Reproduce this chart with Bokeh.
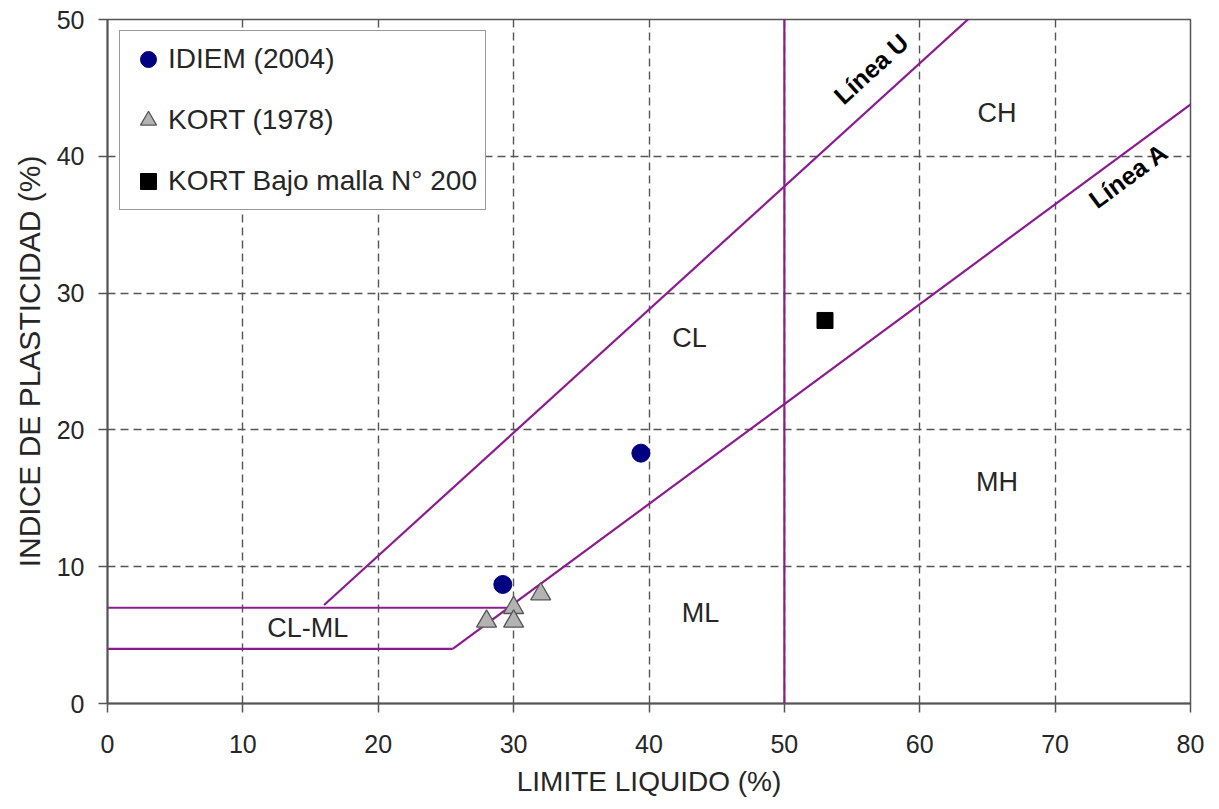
from bokeh.plotting import figure
from bokeh.models import Range1d, FixedTicker, Legend, LegendItem
from bokeh.core.properties import value
from bokeh.embed import file_html
from bokeh.resources import INLINE
import math

# ---- data ----
idiem_ll = [29.2, 39.4]
idiem_ip = [8.7, 18.3]
kort_ll = [28.0, 30.0, 30.0, 32.0]
kort_ip = [6.0, 7.0, 6.0, 8.0]
kort200_ll = [53.0]
kort200_ip = [28.0]

line_u_ll = [16.0, 64.0]
line_u_ip = [7.2, 50.4]
line_a_ll = [25.5, 80.7]
line_a_ip = [4.0, 44.3]
clml_top_ll = [0.0, 29.6]
clml_top_ip = [7.0, 7.0]
clml_bot_ll = [0.0, 25.5]
clml_bot_ip = [4.0, 4.0]
ll50_ll = [50.0, 50.0]
ll50_ip = [0.0, 51.0]

x_ticks = [0, 10, 20, 30, 40, 50, 60, 70, 80]
y_ticks = [0, 10, 20, 30, 40, 50]

zone_names = ["CL", "CH", "MH", "ML", "CL-ML"]
zone_ll = [43.0, 65.7, 65.7, 43.8, 14.8]
zone_ip = [26.7, 43.2, 16.2, 6.65, 5.55]

line_label_names = ["Línea U", "Línea A"]
line_label_ll = [56.4, 75.4]
line_label_ip = [46.4, 38.6]
line_label_slope = [0.9, 0.73]

FONT = "Liberation Sans"
TXT = "#262626"
PURPLE = "#8B1C8F"

p = figure(width=1219, height=809, output_backend="svg", toolbar_location=None,
           x_range=Range1d(0, 80), y_range=Range1d(0, 50),
           min_border_left=107, min_border_right=29, min_border_top=19, min_border_bottom=106)
p.background_fill_color = "white"
p.border_fill_color = "white"
p.outline_line_color = "#555555"
p.outline_line_width = 1.5

for ax in (p.xaxis[0], p.yaxis[0]):
    ax.axis_line_color = "#555555"
    ax.axis_line_width = 2
    ax.major_tick_line_color = "#555555"
    ax.major_tick_line_width = 1.5
    ax.major_tick_in = 0
    ax.major_tick_out = 9
    ax.minor_tick_line_color = None
    ax.major_label_text_font = FONT
    ax.major_label_text_font_size = "25px"
    ax.major_label_text_color = TXT
    ax.axis_label_text_font = FONT
    ax.axis_label_text_font_style = "normal"
    ax.axis_label_text_color = TXT

p.xaxis.ticker = FixedTicker(ticks=x_ticks)
p.yaxis.ticker = FixedTicker(ticks=y_ticks)
p.xaxis.axis_label = "LIMITE LIQUIDO (%)"
p.yaxis.axis_label = "INDICE DE PLASTICIDAD (%)"
p.xaxis.axis_label_text_font_size = "28px"
p.yaxis.axis_label_text_font_size = "30px"
p.xaxis.major_label_standoff = 22
p.yaxis.major_label_standoff = 14
p.xaxis.axis_label_standoff = 10
p.yaxis.axis_label_standoff = 8

for g in (p.xgrid[0], p.ygrid[0]):
    g.grid_line_color = "#555555"
    g.grid_line_width = 1.4
    g.grid_line_dash = "8 5"

# ---- classification lines ----
for xs, ys in [(line_u_ll, line_u_ip), (line_a_ll, line_a_ip), (clml_top_ll, clml_top_ip),
               (clml_bot_ll, clml_bot_ip), (ll50_ll, ll50_ip)]:
    p.line(xs, ys, line_color=PURPLE, line_width=2.2)

# ---- data points ----
r_idiem = p.scatter(idiem_ll, idiem_ip, marker="circle", size=18,
                    fill_color="#000080", line_color="#000080")
r_kort = p.scatter(kort_ll, kort_ip, marker="triangle", size=20,
                   fill_color="#b3b3b3", line_color="#555555", line_width=1.3)
r_k200 = p.scatter(kort200_ll, kort200_ip, marker="square", size=16,
                   fill_color="black", line_color="black")

# ---- zone labels ----
p.text(x=zone_ll, y=zone_ip, text=zone_names, text_font=value(FONT),
       text_font_size="27px", text_color=TXT, text_align="center", text_baseline="middle")

# ---- line labels ----
sx = 1083 / 80
sy = 684 / 50
angles = [math.atan(s * sy / sx) for s in line_label_slope]
p.text(x=line_label_ll, y=line_label_ip, text=line_label_names, angle=angles,
       text_font=value(FONT), text_font_style="bold",
       text_font_size="25px", text_color="black", text_align="center", text_baseline="middle")

# ---- legend ----
legend = Legend(items=[
    LegendItem(label="IDIEM (2004)", renderers=[r_idiem]),
    LegendItem(label="KORT (1978)", renderers=[r_kort]),
    LegendItem(label="KORT Bajo malla N° 200", renderers=[r_k200]),
], location=(12, 493))
legend.margin = 0
legend.padding = 8
legend.spacing = 21
legend.label_height = 30
legend.glyph_height = 40
legend.glyph_width = 40
legend.label_standoff = 0
legend.label_text_font = FONT
legend.label_text_font_size = "28px"
legend.label_text_color = TXT
legend.border_line_color = "#333333"
legend.border_line_width = 1.5
legend.background_fill_color = "white"
legend.background_fill_alpha = 1.0
p.add_layout(legend, "center")

open("out.html", "w").write(file_html(p, INLINE))
